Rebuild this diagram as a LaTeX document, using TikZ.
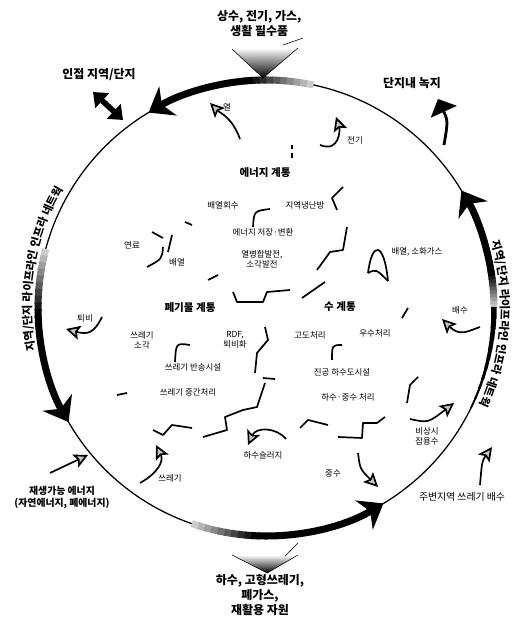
\documentclass[tikz,border=0pt]{standalone}
\usepackage{fontspec}
\setmainfont{Noto Sans CJK KR}
\usetikzlibrary{arrows.meta,decorations.text}

\begin{document}
\begin{tikzpicture}[
    ring/.style={line width=0.9pt},
    band/.style={line width=5pt},
    bigtip/.style={-{Stealth[length=16pt,width=24pt,inset=5pt]}},
    lbl/.style={font=\fontsize{6}{7}\selectfont, align=center, inner sep=1pt},
    sys/.style={font=\fontsize{7.5}{9}\selectfont\bfseries, inner sep=1pt},
    outer/.style={font=\fontsize{8.5}{10.5}\selectfont\bfseries, align=center, inner sep=1pt},
    flow/.style={line width=1.2pt, -{Stealth[length=10pt,width=10pt,inset=2pt,fill=gray!45]}},
    hook/.style={line width=1.2pt},
    part/.style={line width=1.2pt, line join=round}
]

\useasboundingbox (0,0) rectangle (13.05,15.425);
\coordinate (O) at (6.65,7.725);

% Ring
\draw[ring] (O) circle (5.7);

% Thick arrows on the ring
\draw[band, bigtip] (O) ++(95:5.7) arc[start angle=95, end angle=121, radius=5.7];
\draw[band, bigtip] (O) ++(182:5.7) arc[start angle=182, end angle=210, radius=5.7];
\draw[band, bigtip] (O) ++(268:5.7) arc[start angle=268, end angle=301, radius=5.7];
\draw[band, bigtip] (O) ++(9:5.7) arc[start angle=9, end angle=31, radius=5.7];

% Fading part of each band
\foreach \st/\en in {78/95, 165/182, 251/268, 0/9} {
    \foreach \i in {0,...,9} {
        \pgfmathsetmacro\bandfrom{\st+(\en-\st)*\i/10}
        \pgfmathsetmacro\bandstep{(\en-\st)/10+0.4}
        \pgfmathsetmacro\bandtone{20+80*\i/9}
        \draw[band, black!\bandtone] (O) ++(\bandfrom:5.7)
            arc[start angle=\bandfrom, delta angle=\bandstep, radius=5.7];
    }
}
% Taper below the right band
\foreach \i in {0,...,9} {
    \pgfmathsetmacro\bandfrom{-26+2.6*\i}
    \pgfmathsetmacro\bandwid{1.2+0.3*\i}
    \draw[line width=\bandwid pt] (O) ++(\bandfrom:5.7)
        arc[start angle=\bandfrom, delta angle=2.9, radius=5.7];
}

% Network labels along the ring
\path[decorate, decoration={text along path, text align=center,
    text={|\fontsize{8}{10}\selectfont\bfseries|지역/단지 라이프라인 인프라 네트웍}}]
    (O) ++(196:5.87) arc[start angle=196, end angle=144, radius=5.87];
\path[decorate, decoration={text along path, text align=center,
    text={|\fontsize{8}{10}\selectfont\bfseries|지역/단지 라이프라인 인프라 네트웍}}]
    (O) ++(20:5.87) arc[start angle=20, end angle=-28, radius=5.87];

% Inputs from outside
\node[outer] (supply) at (6.48,14.84) {상수, 전기, 가스,\\생활 필수품};
\shade[top color=white, bottom color=black] (5.8,14.2) -- (7.45,14.225) -- (6.575,13.475) -- cycle;
\draw[thin] (5.8,14.2) -- (6.575,13.475) -- (7.45,14.225);
\coordinate (supplyV) at (7.075,14.3);
\draw[thin] (supply.south east) -- (supplyV);

% Outputs to outside
\node[outer] (output) at (6.5,0.55) {하수, 고형쓰레기,\\폐가스,\\재활용 자원};
\shade[top color=white, bottom color=black] (5.8,1.55) -- (7.45,1.55) -- (6.68,1.1) -- cycle;
\draw[thin] (5.8,1.55) -- (6.68,1.1) -- (7.45,1.55);
\coordinate (outA) at (7.45,1.85);
\coordinate (outB) at (7.125,1.52);
\draw[thin] (outA) -- (outB);

% Neighbours
\node[outer] (adj) at (2.475,13.55) {인접 지역/단지};
\coordinate (adjA) at (2.325,13.125);
\coordinate (adjB) at (3.075,12.425);
\draw[line width=4pt, {Triangle[length=9pt,width=14pt]}-{Triangle[length=9pt,width=14pt]}] (adjA) -- (adjB);

\node[outer] (green) at (10.3,13.35) {단지내 녹지};
\coordinate (greenA) at (11.1,11.8);
\coordinate (greenB) at (10.95,12.95);
\draw[line width=2pt, -{Triangle[length=10pt,width=20pt]}] (greenA) .. controls (11.2,12.4) .. (greenB);

\node[outer, font=\fontsize{7}{8.5}\selectfont\bfseries] (renew) at (1.55,3.0) {재생가능 에너지\\(자연에너지, 폐에너지)};
\coordinate (renewA) at (1.25,3.6);
\coordinate (renewB) at (2.2,4.05);
\draw[flow] (renewA) -- (renewB);

\node[lbl, font=\fontsize{7}{8}\selectfont] (around) at (11.55,3.0) {주변지역 쓰레기 배수};

% Systems
\node[sys] (energy) at (6.625,11.1) {에너지 계통};
\node[sys] (wastesys) at (4.75,7.725) {폐기물 계통};
\node[sys] (watersys) at (8.5,7.75) {수 계통};

% Energy labels
\node[lbl] (heat) at (5.675,12.75) {열};
\node[lbl] (elec) at (8.875,11.925) {전기};
\node[lbl] (recov) at (5.575,10.3) {배열회수};
\node[lbl] (district) at (7.625,10.3) {지역냉난방};
\node[lbl] (storage) at (6.575,9.625) {에너지 저장·변환};
\node[lbl] (fuel) at (3.3,9.3) {연료};
\node[lbl] (exhaust) at (4.425,8.875) {배열};
\node[lbl] (chp) at (6.55,8.95) {열병합발전,\\소각발전};
\node[lbl] (gas) at (10.425,9.125) {배열, 소화가스};

% Waste labels
\node[lbl] (compost) at (2.125,7.475) {퇴비};
\node[lbl] (incin) at (3.55,6.925) {쓰레기\\소각};
\node[lbl] (rdf) at (5.875,6.925) {RDF,\\퇴비화};
\node[lbl] (convey) at (4.825,6.25) {쓰레기 반송시설};
\node[lbl] (middle) at (4.7,5.625) {쓰레기 중간처리};
\node[lbl] (sludge) at (6.575,4.05) {하수슬러지};
\node[lbl] (garbage) at (4.25,3.475) {쓰레기};

% Water labels
\node[lbl] (drain) at (11.5,7.675) {배수};
\node[lbl] (advanced) at (7.75,7.05) {고도처리};
\node[lbl] (rain) at (9.375,7.1) {우수처리};
\node[lbl] (vacuum) at (8.55,6.125) {진공 하수도시설};
\node[lbl] (sewage) at (8.7,5.5) {하수·중수 처리};
\node[lbl] (emerg) at (10.675,4.525) {비상시\\잡용수};
\node[lbl] (gray) at (8.325,3.6) {중수};

% Flows
\coordinate (heatA) at (6.0,11.95);
\coordinate (heatB) at (5.25,12.85);
\draw[flow] (heatA) .. controls (5.8,12.5) and (5.5,12.6) .. (heatB);
\coordinate (elecA) at (8.0,11.8);
\coordinate (elecB) at (8.4,12.5);
\draw[flow] (elecA) .. controls (8.5,11.6) and (8.5,12.2) .. (elecB);
\coordinate (compA) at (2.55,7.5);
\coordinate (compB) at (1.65,7.2);
\draw[flow] (compA) .. controls (2.35,7.1) and (2.2,7.05) .. (compB);
\coordinate (drainA) at (12.0,7.25);
\coordinate (drainB) at (11.05,7.45);
\draw[flow] (drainA) .. controls (11.7,7.15) and (11.5,7.0) .. (drainB);
\coordinate (emergA) at (10.25,4.95);
\coordinate (emergB) at (11.35,5.35);
\draw[flow] (emergA) .. controls (10.7,4.85) .. (emergB);
\coordinate (grayA) at (8.95,4.1);
\coordinate (grayB) at (9.45,3.25);
\draw[flow] (grayA) .. controls (9.0,3.7) .. (grayB);
\coordinate (garbA) at (3.5,3.35);
\coordinate (garbB) at (3.9,4.3);
\draw[flow] (garbA) .. controls (3.95,3.6) and (4.1,3.9) .. (garbB);
\coordinate (sludA) at (7.15,4.45);
\coordinate (sludB) at (6.2,4.3);
\draw[flow] (sludA) .. controls (6.9,4.75) and (6.4,4.75) .. (sludB);
\coordinate (aroundA) at (12.0,3.3);
\coordinate (aroundB) at (12.3,4.25);
\draw[flow] (aroundA) .. controls (12.05,3.9) .. (aroundB);

% Hooks between labels
\draw[hook] (6.325,9.75) .. controls (6.35,10.15) .. (6.75,10.2);
\draw[hook] (4.375,6.375) .. controls (4.4,6.85) .. (4.75,6.8);
\draw[hook] (8.3,6.425) .. controls (8.3,6.8) .. (8.55,6.8);
\draw[hook] (3.675,8.75) .. controls (4.05,8.95) .. (4.075,9.25);
\draw[hook] (4.3,9.55) -- (4.2,9.125);
\draw[hook] (3.8,9.625) -- (4.075,9.475);
\draw[hook] (9.2,8.6) .. controls (9.3,9.4) and (9.6,9.4) .. (9.7,8.4);
\draw[hook] (9.2,8.6) .. controls (9.4,8.7) .. (9.7,8.4);

% Borders between the systems
\draw[part] (8.575,10.75) -- (8.3,10.475) -- (8.425,10.175);
\draw[part] (8.675,9.75) -- (8.575,9.175) -- (8.25,9.125) -- (7.925,8.675);
\draw[part] (8.125,8.375) -- (7.55,7.975);
\draw[part] (7.25,8.175) -- (6.675,8.125) -- (6.575,7.875) -- (5.925,7.875) -- (5.825,8.125);
\draw[part] (5.45,8.55) -- (5.2,8.425);
\draw[part] (4.625,9.875) -- (4.8,9.8);
\draw[part] (6.625,7.25) -- (6.7,6.925) -- (6.425,6.6) -- (6.375,6.1);
\draw[part] (6.575,5.975) -- (6.875,5.95);
\draw[part] (6.625,5.85) -- (6.425,5.25) -- (6.075,5.175) -- (5.625,5.0) -- (5.675,4.675) -- (5.075,4.5);
\draw[part] (3.825,4.675) -- (4.075,4.55) -- (4.3,4.8) -- (4.8,4.725);
\draw[part] (7.5,4.725) -- (7.7,4.925) -- (8.2,4.8);
\draw[part] (8.45,4.5) -- (9.05,4.475) -- (9.075,4.85) -- (9.425,4.85) -- (9.625,5.0);
\draw[part] (10.175,5.35) -- (10.25,5.8) -- (10.45,6.0);
\draw[part] (2.925,5.55) -- (3.175,5.6);
\draw[part] (10.05,7.475) -- (10.2,7.725);
\draw[part, dashed] (7.3,11.8) -- (7.3,11.425);

\end{tikzpicture}
\end{document}
